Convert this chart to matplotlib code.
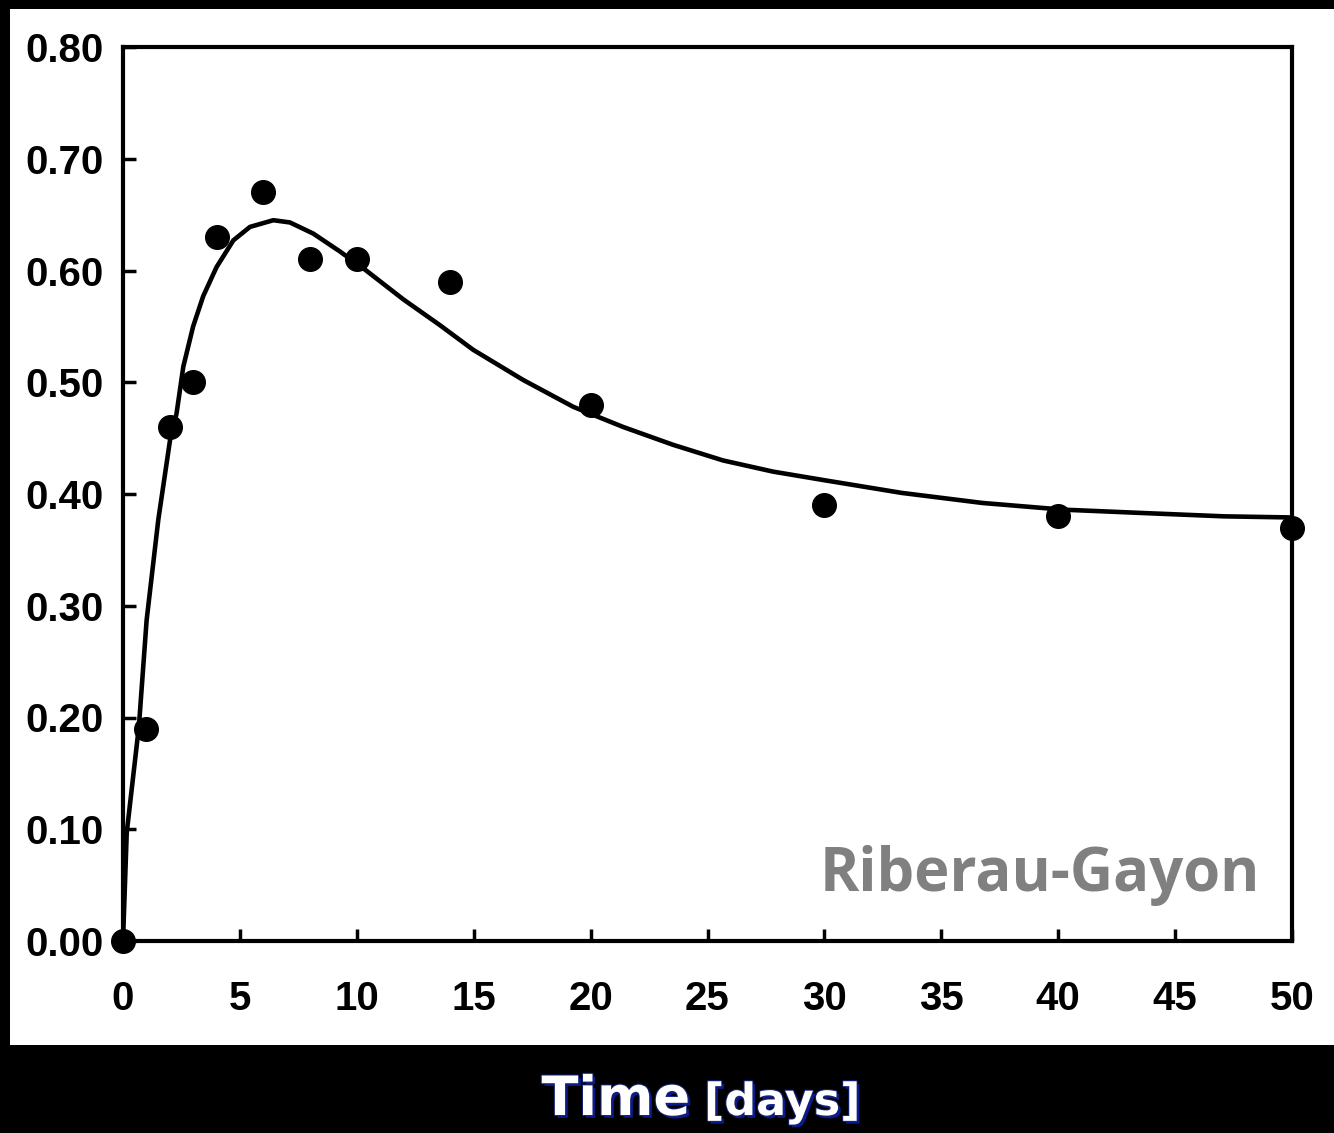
import matplotlib
matplotlib.use("Agg")
import matplotlib.pyplot as plt
from matplotlib.patches import Rectangle
import matplotlib.patheffects as pe

# Measured data points (days, value)
days = [0, 1, 2, 3, 4, 6, 8, 10, 14, 20, 30, 40, 50]
values = [0.00, 0.19, 0.46, 0.50, 0.63, 0.67, 0.61, 0.61, 0.59, 0.48, 0.39, 0.38, 0.37]

# Fitted curve
curve_days = [0, 0.16, 0.68, 1.01, 1.51, 2.01, 2.29, 2.58, 3.0, 3.43, 4.0, 4.72,
              5.43, 6.43, 7.14, 8.14, 9.28, 10.4, 12.0, 13.56, 14.98, 17.12, 19.26,
              21.39, 23.53, 25.67, 27.81, 29.95, 33.3, 36.75, 40.2, 43.6, 47.1, 50]
curve_values = [0, 0.097, 0.192, 0.287, 0.377, 0.448, 0.472, 0.514, 0.550, 0.577,
                0.603, 0.627, 0.639, 0.645, 0.643, 0.633, 0.617, 0.600, 0.574,
                0.551, 0.529, 0.502, 0.478, 0.460, 0.444, 0.430, 0.420, 0.4125,
                0.401, 0.392, 0.386, 0.383, 0.380, 0.379]

x_ticks = [0, 5, 10, 15, 20, 25, 30, 35, 40, 45, 50]
y_ticks = [0.0, 0.1, 0.2, 0.3, 0.4, 0.5, 0.6, 0.7, 0.8]
y_tick_labels = ["0.00", "0.10", "0.20", "0.30", "0.40", "0.50", "0.60", "0.70", "0.80"]

W, H = 1334, 1133
fig = plt.figure(figsize=(W / 100, H / 100), dpi=100, facecolor="black")

# white panel
fig.patches.append(Rectangle((10 / W, (H - 1045) / H), 1 - 10 / W, (1045 - 9) / H,
                             transform=fig.transFigure, facecolor="white",
                             edgecolor="none", zorder=-5))

ax = fig.add_axes([123 / W, (H - 941) / H, (1292 - 123) / W, (941 - 47) / H])
ax.set_zorder(2)
ax.set_facecolor("white")
ax.set_xlim(0, 50)
ax.set_ylim(0, 0.8)

ax.plot(curve_days, curve_values, color="black", lw=3.3, solid_joinstyle="round",
        solid_capstyle="round", clip_on=False, zorder=3)
ax.plot(days, values, "o", color="black", markersize=17, clip_on=False, zorder=4)

for s in ax.spines.values():
    s.set_linewidth(3.0)
    s.set_color("black")

ax.set_xticks(x_ticks)
ax.set_xticklabels([str(v) for v in x_ticks])
ax.set_yticks(y_ticks)
ax.set_yticklabels(y_tick_labels)
ax.tick_params(axis="both", direction="in", length=9, width=2.5, color="black")
ax.tick_params(axis="x", pad=28)
ax.tick_params(axis="y", pad=14)
for lab in ax.get_xticklabels() + ax.get_yticklabels():
    lab.set_fontfamily("Liberation Sans")
    lab.set_fontweight("bold")
    lab.set_fontsize(29)

ax.text(1260 / W, (H - 875) / H, "Riberau-Gayon", transform=fig.transFigure,
        ha="right", va="center", fontsize=43, fontweight="bold",
        family="Open Sans", color="#808080", zorder=5)

shadow = [pe.withSimplePatchShadow(offset=(2, -2), shadow_rgbFace="#0a1a8c", alpha=1.0),
          pe.withStroke(linewidth=1.5, foreground="#13237a")]
fig.text(690 / W, (H - 1115) / H, "Time", ha="right", va="baseline",
         fontsize=39, fontweight="bold", family="DejaVu Sans", color="white",
         path_effects=shadow)
fig.text(704 / W, (H - 1115) / H, "[days]", ha="left", va="baseline",
         fontsize=32, fontweight="bold", family="DejaVu Sans", color="white",
         path_effects=shadow)

fig.savefig("out.png", dpi=100, facecolor="black")
